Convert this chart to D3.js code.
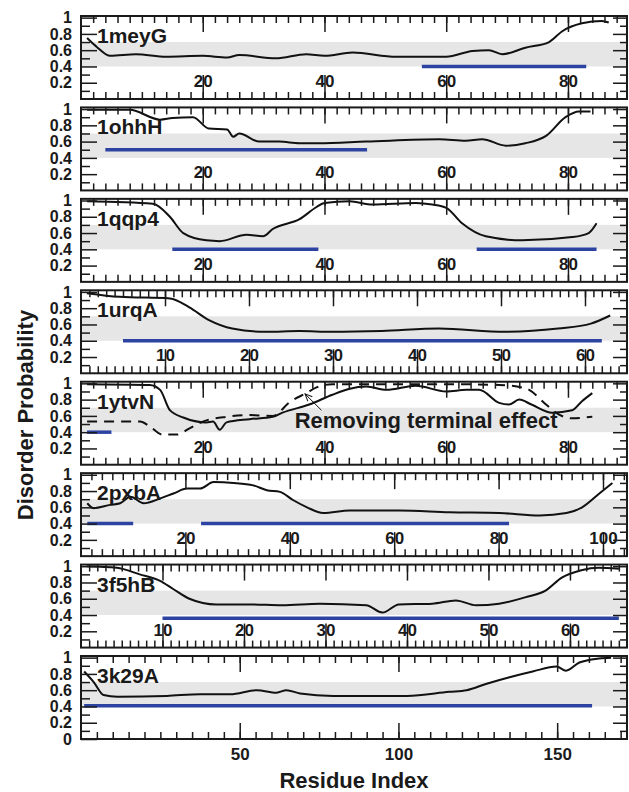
<!DOCTYPE html>
<html>
<head>
<meta charset="utf-8">
<script src="https://cdn.jsdelivr.net/npm/d3@7"></script>
<style>
  body { margin: 0; background: #fff; }
  text { font-family: "Liberation Sans", Arial, sans-serif; font-weight: bold; fill: #1a1a1a; }
</style>
</head>
<body>
<div id="chart"></div>
<script>
// one panel per protein chain
const proteins = ["1meyG", "1ohhH", "1qqp4", "1urqA", "1ytvN", "2pxbA", "3f5hB", "3k29A"];

// residue axis per panel
const xMax = [89.7, 89.7, 89.7, 65, 89.7, 104.6, 67, 172];
const majorStep = [20, 20, 20, 10, 20, 20, 10, 50];
const minorStep = [2, 2, 2, 1, 2, 2, 1, 5];

// probability axis
const yMajor = [0.2, 0.4, 0.6, 0.8, 1];
const yMinor = [0.1, 0.3, 0.5, 0.7, 0.9];
const band = [0.4, 0.7];

// disorder probability, [residue, probability]
const curve1meyG = [[1,0.75],[2.6,0.64],[4.8,0.53],[9,0.55],[14,0.52],[20,0.53],[24,0.51],[26,0.54],[32,0.5],[37,0.55],[40,0.53],[44.6,0.57],[51.8,0.52],[60,0.52],[64.3,0.59],[67,0.6],[69.2,0.55],[73,0.63],[76.9,0.7],[79,0.83],[82.3,0.93],[85.6,0.96],[86.7,0.94]];
const curve1ohhH = [[1,0.99],[8,0.99],[13,0.87],[15,0.89],[18.4,0.9],[21,0.76],[24,0.75],[25,0.66],[26,0.7],[29.3,0.6],[32.6,0.6],[35.9,0.58],[39,0.58],[46.8,0.6],[58.9,0.63],[63.2,0.61],[65.9,0.63],[69.8,0.55],[73,0.58],[76.4,0.67],[79.6,0.9],[81.8,0.97],[83.7,0.97]];
const curve1qqp4 = [[1,0.99],[11.8,0.96],[14.6,0.8],[16.8,0.6],[20.6,0.51],[22.8,0.5],[27.2,0.58],[29.9,0.56],[31.5,0.65],[35.9,0.77],[38.7,0.92],[40,0.97],[44.1,0.99],[47.9,0.95],[55,0.97],[57.7,0.95],[60,0.91],[62.6,0.72],[66.5,0.56],[72.5,0.51],[80.7,0.55],[83.4,0.6],[84.7,0.72]];
const curve1urqA = [[0.7,0.985],[4.6,0.94],[10.6,0.92],[12.9,0.81],[15.3,0.65],[18,0.55],[22,0.51],[26,0.52],[29.9,0.51],[35.8,0.52],[42.6,0.55],[50.5,0.51],[56.8,0.55],[60.7,0.61],[63,0.71]];
const curve1ytvN = [[1,0.99],[11.3,0.98],[13,0.92],[14.6,0.67],[16.8,0.58],[20.6,0.52],[21.7,0.53],[22.8,0.43],[23.9,0.52],[27.7,0.56],[31.5,0.59],[33.1,0.64],[37.5,0.74],[41.3,0.86],[44,0.93],[46.9,0.96],[50.2,0.92],[55,0.97],[60,0.9],[63.3,0.92],[65.4,0.92],[68.7,0.76],[70.3,0.74],[72,0.8],[74,0.74],[77.4,0.64],[80.7,0.67],[82.3,0.78],[84,0.88]];
const curve2pxbA = [[1.2,0.65],[2.4,0.59],[5.6,0.63],[7.5,0.65],[9.5,0.73],[12,0.65],[15.2,0.71],[17.7,0.77],[20.3,0.83],[22.8,0.83],[25.4,0.91],[29.2,0.9],[33,0.87],[35.6,0.81],[38.1,0.79],[40.6,0.69],[43.3,0.6],[46.4,0.53],[51.5,0.56],[61,0.56],[70.6,0.54],[80.2,0.53],[87.9,0.5],[93,0.53],[96,0.6],[99.3,0.77],[101.8,0.9]];
const curve3f5hB = [[0.7,1.0],[4.4,0.98],[7.2,0.9],[9.7,0.82],[11.3,0.72],[13.3,0.6],[16.6,0.53],[20.7,0.53],[24.7,0.52],[29.3,0.54],[35,0.52],[37,0.43],[39,0.53],[43.1,0.54],[46,0.58],[48.5,0.52],[51.3,0.54],[54.6,0.62],[57,0.7],[59,0.86],[61.4,0.95],[63.5,0.98],[66,0.97]];
const curve3k29A = [[1,0.83],[4,0.7],[7.1,0.54],[11.5,0.52],[27,0.53],[37.6,0.55],[47,0.55],[55.4,0.6],[61.6,0.57],[64.7,0.6],[69,0.56],[79.4,0.53],[90,0.53],[102.7,0.53],[116,0.58],[121.5,0.6],[127.8,0.68],[135,0.76],[142.3,0.83],[149.8,0.89],[152.8,0.84],[157,0.94],[163.2,0.99],[167,1.0]];
const curves = [curve1meyG, curve1ohhH, curve1qqp4, curve1urqA, curve1ytvN, curve2pxbA, curve3f5hB, curve3k29A];

// 1ytvN again, terminal effect removed (dashed)
const curve1ytvNTrimmed = [[1,0.53],[9.7,0.53],[11.3,0.47],[13.4,0.37],[15.7,0.37],[17.9,0.45],[20,0.53],[24,0.59],[27.7,0.61],[31.5,0.6],[34.3,0.77],[37,0.88],[38.7,0.95],[41.3,0.99],[50,0.99],[60,0.99],[68.7,0.98],[73,0.94],[76.4,0.74],[78,0.64],[80.7,0.57],[84,0.59]];

// known disordered regions, [start, end, level]
const seg1meyG = [[56, 83, 0.4]];
const seg1ohhH = [[4, 47, 0.5]];
const seg1qqp4 = [[15, 39, 0.4], [65, 84.7, 0.4]];
const seg1urqA = [[5, 62, 0.4]];
const seg1ytvN = [[1, 5, 0.4]];
const seg2pxbA = [[1.2, 10, 0.4], [23, 82, 0.4]];
const seg3f5hB = [[10, 66, 0.36]];
const seg3k29A = [[1, 161, 0.41]];
const segments = [seg1meyG, seg1ohhH, seg1qqp4, seg1urqA, seg1ytvN, seg2pxbA, seg3f5hB, seg3k29A];

const W = 629, H = 792;
const left = 81, right = 627;
const firstTop = 16, pitch = 91.43, panelH = 83;

const svg = d3.select("#chart").append("svg")
  .attr("width", W)
  .attr("height", H);

const lineGen = (x, y) => d3.line()
  .x(d => x(d[0]))
  .y(d => y(d[1]))
  .curve(d3.curveMonotoneX);

const fmtY = d => d === 1 ? "1" : d === 0 ? "0" : d3.format(".1f")(d);

function styleAxis(g) {
  g.select(".domain").remove();
  g.selectAll("line").attr("stroke", "#1a1a1a").attr("stroke-width", 1.5);
  g.attr("font-family", null).attr("font-size", null);
}

proteins.forEach((name, i) => {
  const top = firstTop + i * pitch;
  const bottom = top + panelH;
  const last = i === proteins.length - 1;

  const x = d3.scaleLinear().domain([0, xMax[i]]).range([left, right]);
  const y = d3.scaleLinear().domain([0, 1.02]).range([bottom, top]);

  const g = svg.append("g").attr("class", "panel");

  // grey band
  g.append("rect")
    .attr("x", left)
    .attr("width", right - left)
    .attr("y", y(band[1]))
    .attr("height", y(band[0]) - y(band[1]))
    .attr("fill", "#e6e6e6");

  // blue disordered regions
  g.selectAll(".seg").data(segments[i]).enter().append("line")
    .attr("class", "seg")
    .attr("x1", d => x(d[0]))
    .attr("x2", d => x(d[1]))
    .attr("y1", d => y(d[2]))
    .attr("y2", d => y(d[2]))
    .attr("stroke", "#2d43a2")
    .attr("stroke-width", 3.5);

  // prediction curve
  g.append("path")
    .datum(curves[i])
    .attr("fill", "none")
    .attr("stroke", "#111")
    .attr("stroke-width", 2)
    .attr("d", lineGen(x, y));

  if (name === "1ytvN") {
    g.append("path")
      .datum(curve1ytvNTrimmed)
      .attr("fill", "none")
      .attr("stroke", "#111")
      .attr("stroke-width", 2)
      .attr("stroke-dasharray", "10,7")
      .attr("d", lineGen(x, y));

    // annotation
    svg.append("defs").append("marker")
      .attr("id", "arrow")
      .attr("viewBox", "0 0 10 10")
      .attr("refX", 9).attr("refY", 5)
      .attr("markerWidth", 8).attr("markerHeight", 8)
      .attr("orient", "auto")
      .append("path")
        .attr("d", "M0,1 L9,5 L0,9")
        .attr("fill", "none")
        .attr("stroke", "#111")
        .attr("stroke-width", 1.2);

    g.append("line")
      .attr("x1", x(39.5)).attr("y1", y(0.67))
      .attr("x2", x(36.8)).attr("y2", y(0.87))
      .attr("stroke", "#111")
      .attr("stroke-width", 1)
      .attr("marker-end", "url(#arrow)");

    g.append("text")
      .attr("x", x(35.1))
      .attr("y", y(0.45))
      .attr("font-size", 22)
      .text("Removing terminal effect");
  }

  // x ticks, top edge (inward)
  const xMinorVals = d3.range(minorStep[i], xMax[i], minorStep[i]);
  const xMajorVals = d3.range(majorStep[i], xMax[i], majorStep[i]);

  g.append("g")
    .attr("transform", `translate(0,${top})`)
    .call(d3.axisTop(x).tickValues(xMinorVals).tickSize(-7).tickFormat(""))
    .call(styleAxis);
  g.append("g")
    .attr("transform", `translate(0,${top})`)
    .call(d3.axisTop(x).tickValues(xMajorVals).tickSize(-16).tickFormat(""))
    .call(styleAxis);

  // x ticks, bottom edge
  g.append("g")
    .attr("transform", `translate(0,${bottom})`)
    .call(d3.axisBottom(x).tickValues(xMinorVals).tickSize(-7).tickFormat(""))
    .call(styleAxis);
  const xb = g.append("g")
    .attr("transform", `translate(0,${bottom})`)
    .call(d3.axisBottom(x).tickValues(xMajorVals).tickSize(last ? -16 : -24))
    .call(styleAxis);
  xb.selectAll("text")
    .attr("font-size", 17)
    .attr("dy", null)
    .attr("y", last ? 21 : -12);

  // y ticks, left with labels
  g.append("g")
    .attr("transform", `translate(${left},0)`)
    .call(d3.axisLeft(y).tickValues(yMinor).tickSize(-9).tickFormat(""))
    .call(styleAxis);
  const yl = g.append("g")
    .attr("transform", `translate(${left},0)`)
    .call(d3.axisLeft(y).tickValues(last ? [0].concat(yMajor) : yMajor)
      .tickSize(-16).tickPadding(9).tickFormat(fmtY))
    .call(styleAxis);
  yl.selectAll("text").attr("font-size", 16);

  // y ticks, right
  g.append("g")
    .attr("transform", `translate(${right},0)`)
    .call(d3.axisRight(y).tickValues(yMinor).tickSize(-7).tickFormat(""))
    .call(styleAxis);
  g.append("g")
    .attr("transform", `translate(${right},0)`)
    .call(d3.axisRight(y).tickValues(yMajor).tickSize(-14).tickFormat(""))
    .call(styleAxis);

  // frame
  g.append("rect")
    .attr("x", left)
    .attr("y", top)
    .attr("width", right - left)
    .attr("height", panelH)
    .attr("fill", "none")
    .attr("stroke", "#1a1a1a")
    .attr("stroke-width", 2);

  // protein label
  g.append("text")
    .attr("x", left + 16)
    .attr("y", top + 27)
    .attr("font-size", 21)
    .text(name);
});

// axis titles
svg.append("text")
  .attr("x", (left + right) / 2)
  .attr("y", 788)
  .attr("text-anchor", "middle")
  .attr("font-size", 22)
  .text("Residue Index");

svg.append("text")
  .attr("transform", "translate(33,415) rotate(-90)")
  .attr("text-anchor", "middle")
  .attr("font-size", 22)
  .text("Disorder Probability");
</script>
</body>
</html>
